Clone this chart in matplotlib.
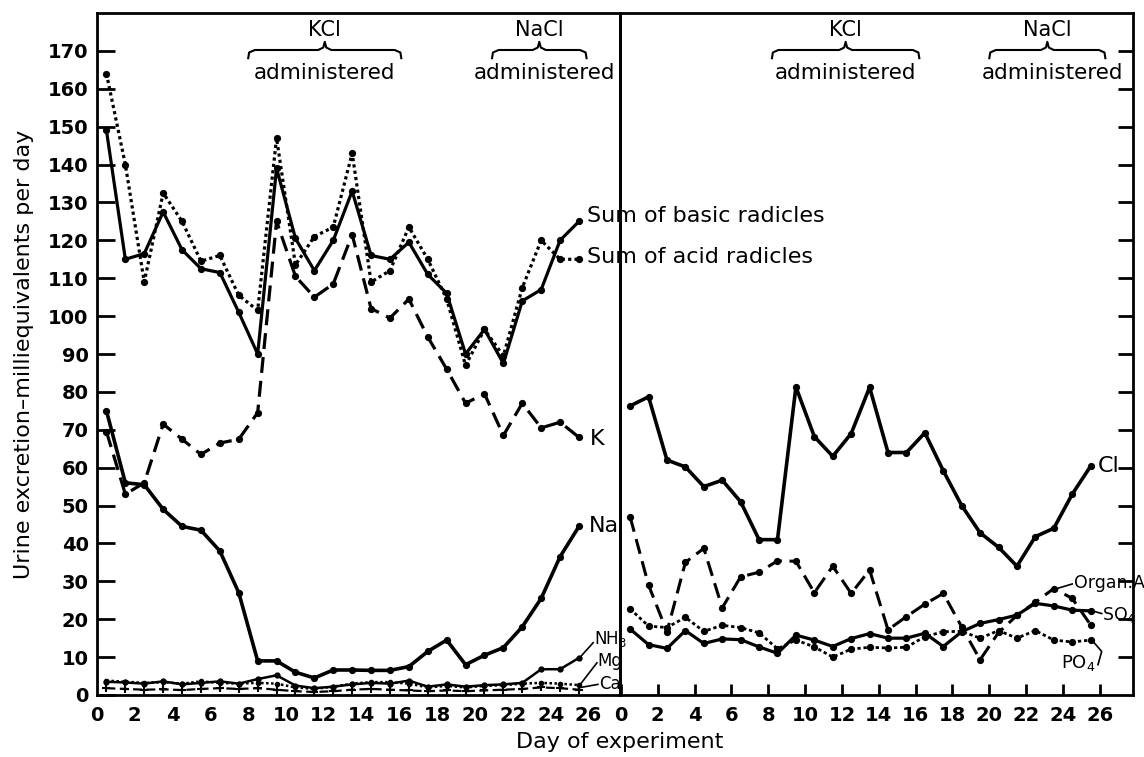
import matplotlib
matplotlib.use("Agg")
import matplotlib.pyplot as plt
import matplotlib.transforms as mtransforms

# ---------------- data ----------------
days = [0.5 + i for i in range(26)]

sum_basic = [149, 115, 116.5, 127.5, 117.5, 112.5, 111.5, 101, 90, 139, 120.5, 112, 120,
             133, 116, 115, 119.5, 111, 106, 90, 96.5, 87.5, 104, 107, 120, 125]
sum_acid = [164, 140, 109, 132.5, 125, 114.5, 116, 105.5, 101.5, 147, 113.5, 121, 123.5,
            143, 109, 112, 123.5, 115, 104.5, 87, 96.5, 89.5, 107.5, 120, 115, 115]
k_vals = [69.5, 53, 56, 71.5, 67.5, 63.5, 66.5, 67.5, 74.5, 125, 110.5, 105, 108.5,
          121.5, 102, 99.5, 104.5, 94.5, 86, 77, 79.5, 68.5, 77, 70.5, 72, 68]
na_vals = [75, 56, 55.5, 49, 44.5, 43.5, 38, 27, 9, 9, 6, 4.5, 6.6,
           6.6, 6.5, 6.5, 7.5, 11.5, 14.5, 8, 10.5, 12.5, 18, 25.5, 36.5, 44.5]
nh3_vals = [3.5, 3.3, 3.0, 3.6, 2.8, 3.2, 3.6, 3.0, 4.2, 5.2, 2.5, 1.8, 2.2,
            2.8, 3.2, 3.0, 3.8, 2.2, 2.8, 2.2, 2.6, 2.8, 3.2, 6.8, 6.8, 9.8]
mg_vals = [3.8, 3.5, 3.2, 3.4, 3.0, 3.6, 3.2, 3.0, 3.2, 3.0, 2.0, 1.6, 2.2,
           3.0, 3.4, 3.4, 3.0, 2.0, 2.4, 2.0, 2.4, 2.6, 3.0, 3.2, 3.0, 2.6]
ca_vals = [1.8, 1.6, 1.4, 1.5, 1.3, 1.6, 1.8, 1.6, 1.8, 1.4, 1.0, 0.8, 1.0,
           1.4, 1.6, 1.4, 1.2, 1.0, 1.2, 1.0, 1.2, 1.4, 1.6, 2.0, 1.8, 1.4]

cl_vals = [76.3, 78.7, 62, 60.2, 55, 56.7, 51, 41, 41, 81.3, 68.2, 63, 69,
           81.2, 64, 64, 69.2, 59.2, 50, 42.8, 39, 34, 41.8, 44, 53, 60.4]
orga_vals = [47, 29, 16.7, 35, 38.7, 23, 31.2, 32.4, 35.4, 35.3, 27, 34, 26.8,
             33, 17.2, 20.7, 24, 26.8, 18, 9.3, 16.5, 21, 24.5, 28.1, 25.5, 18.5]
so4_vals = [17.4, 13.3, 12.3, 17, 13.6, 14.8, 14.6, 12.7, 11, 15.8, 14.5, 12.8, 14.9,
            16.2, 15, 15, 16.3, 12.8, 16.7, 18.9, 19.9, 21.1, 24.2, 23.5, 22.4, 22.2]
po4_vals = [22.7, 18.2, 17.8, 20.5, 16.8, 18.4, 17.8, 16.4, 12.2, 14.5, 12.7, 10, 12.1,
            12.6, 12.4, 12.6, 15.4, 16.7, 16.8, 15, 17, 15, 17, 14.5, 14, 14.5]

x_ticks = list(range(0, 27, 2))
y_ticks = list(range(0, 171, 10))
period_labels = ["KCl", "NaCl"]
periods = [(8.0, 16.1), (20.9, 25.9)]
periods_r = [(8.2, 16.2), (20.0, 26.3)]

# ---------------- figure ----------------
W, H = 1144, 757
fig = plt.figure(figsize=(W / 100, H / 100), dpi=100)
plt.rcParams['font.family'] = ['DejaVu Sans']

y0_px, y1_px = 695, 13
axL = fig.add_axes([97 / W, 1 - y0_px / H, (620 - 97) / W, (y0_px - y1_px) / H])
axR = fig.add_axes([620 / W, 1 - y0_px / H, (1133 - 620) / W, (y0_px - y1_px) / H])
axR.patch.set_visible(False)
axL.set_zorder(2)
axL.patch.set_visible(False)
axR.set_zorder(1)

axL.set_xlim(0, 27.67)
axR.set_xlim(-0.05, 27.8)
for ax in (axL, axR):
    ax.set_ylim(0, 180)
    for s in ax.spines.values():
        s.set_linewidth(2.0)
        s.set_color('black')

ms = 4.2
c = 'black'
# left panel
axL.plot(days, sum_basic, color=c, lw=2.3, marker='o', ms=ms)
axL.plot(days, sum_acid, color=c, lw=2.3, ls=(0, (1, 1)), marker='o', ms=ms)
axL.plot(days, k_vals, color=c, lw=2.3, ls=(0, (5, 2.5)), marker='o', ms=ms)
axL.plot(days, na_vals, color=c, lw=2.6, marker='o', ms=ms)
axL.plot(days, nh3_vals, color=c, lw=1.8, marker='o', ms=3.5)
axL.plot(days, mg_vals, color=c, lw=1.8, ls=(0, (1, 1)), marker='o', ms=3)
axL.plot(days, ca_vals, color=c, lw=1.6, ls=(0, (4, 2)), marker='+', ms=6, mew=1.5)

# right panel
axR.plot(days, cl_vals, color=c, lw=2.6, marker='o', ms=ms)
axR.plot(days, orga_vals, color=c, lw=2.2, ls=(0, (5, 2.5)), marker='o', ms=ms)
axR.plot(days, so4_vals, color=c, lw=2.3, marker='o', ms=ms)
axR.plot(days, po4_vals, color=c, lw=2.0, ls=(0, (1.2, 1)), marker='o', ms=ms)

# ticks
tick_font = dict(fontsize=14, fontweight='bold')
axL.set_yticks(y_ticks)
axL.set_yticklabels([str(v) for v in y_ticks], **tick_font)
axL.tick_params(axis='y', direction='in', length=13, width=2, pad=6)
axL.set_xticks(x_ticks)
axL.set_xticklabels([str(v) for v in x_ticks], **tick_font)
axL.tick_params(axis='x', direction='in', length=0, pad=8)

axR.set_xticks(x_ticks)
axR.set_xticklabels([str(v) for v in x_ticks], **tick_font)
axR.tick_params(axis='x', direction='in', length=8, width=2, pad=8)
axR.yaxis.tick_right()
axR.set_yticks(y_ticks[1:])
axR.tick_params(axis='y', direction='in', length=11, width=2, labelright=False)

axL.set_ylabel("Urine excretion\u2013milliequivalents per day", fontsize=16, labelpad=10)
fig.text(620 / W, 1 - 742 / H, "Day of experiment", ha='center', va='center', fontsize=16)

# series labels
lab = dict(fontsize=16, ha='left', va='center', clip_on=False)
axL.text(25.95, 126.5, "Sum of basic radicles", **lab)
axL.text(25.95, 115.5, "Sum of acid radicles", **lab)
axL.text(26.1, 67.5, "K", **lab)
axL.text(26.0, 44.5, "Na", **lab)
small = dict(fontsize=12, ha='left', va='center', clip_on=False)
axL.text(26.3, 14.8, "NH$_3$", **small)
axL.text(26.45, 9.0, "Mg", **small)
axL.text(26.55, 3.0, "Ca", **small)
axL.plot([25.6, 26.25], [10.2, 13.8], color=c, lw=1.2, clip_on=False)
axL.plot([25.6, 26.45], [3.0, 8.5], color=c, lw=1.2, clip_on=False)
axL.plot([25.6, 26.5], [2.0, 2.8], color=c, lw=1.2, clip_on=False)

axR.text(25.9, 60.5, "Cl", **lab)
axR.text(24.6, 29.5, "Organ.A", fontsize=12.5, ha='left', va='center', clip_on=False)
axR.plot([23.6, 24.5], [28.0, 29.3], color=c, lw=1.2)
axR.text(26.1, 21.0, "SO$_4$", fontsize=12.5, ha='left', va='center', clip_on=False)
axR.plot([25.6, 26.1], [22.2, 21.5], color=c, lw=1.2)
axR.text(23.9, 8.5, "PO$_4$", fontsize=13, ha='left', va='center', clip_on=False)
axR.plot([25.6, 26.1, 25.9], [14.3, 11.5, 8.0], color=c, lw=1.2)


def brace(ax, xa, xb, yc, h):
    tr = mtransforms.blended_transform_factory(ax.transData, ax.transAxes)
    xm = (xa + xb) / 2
    d = 0.35
    xs = [xa, xa + 0.05, xa + d, xm - d, xm - 0.08, xm, xm + 0.08, xm + d, xb - d, xb - 0.05, xb]
    ys = [yc - h, yc - h * 0.3, yc, yc, yc + h * 0.3, yc + h, yc + h * 0.3, yc, yc, yc - h * 0.3, yc - h]
    ax.plot(xs, ys, color='black', lw=1.5, transform=tr, clip_on=False)


def fy(px):
    return (y0_px - px) / (y0_px - y1_px)


for ax, pers in ((axL, periods), (axR, periods_r)):
    tr = mtransforms.blended_transform_factory(ax.transData, ax.transAxes)
    for name, (a, b) in zip(period_labels, pers):
        m = (a + b) / 2
        ax.text(m, fy(30), name, transform=tr, ha='center', va='center', fontsize=15)
        brace(ax, a, b, fy(50), 0.012)
        ax.text(m + (0.3 if name == "NaCl" else 0), fy(73), "administered", transform=tr,
                ha='center', va='center', fontsize=15.5)

fig.savefig("out.png", dpi=100)
